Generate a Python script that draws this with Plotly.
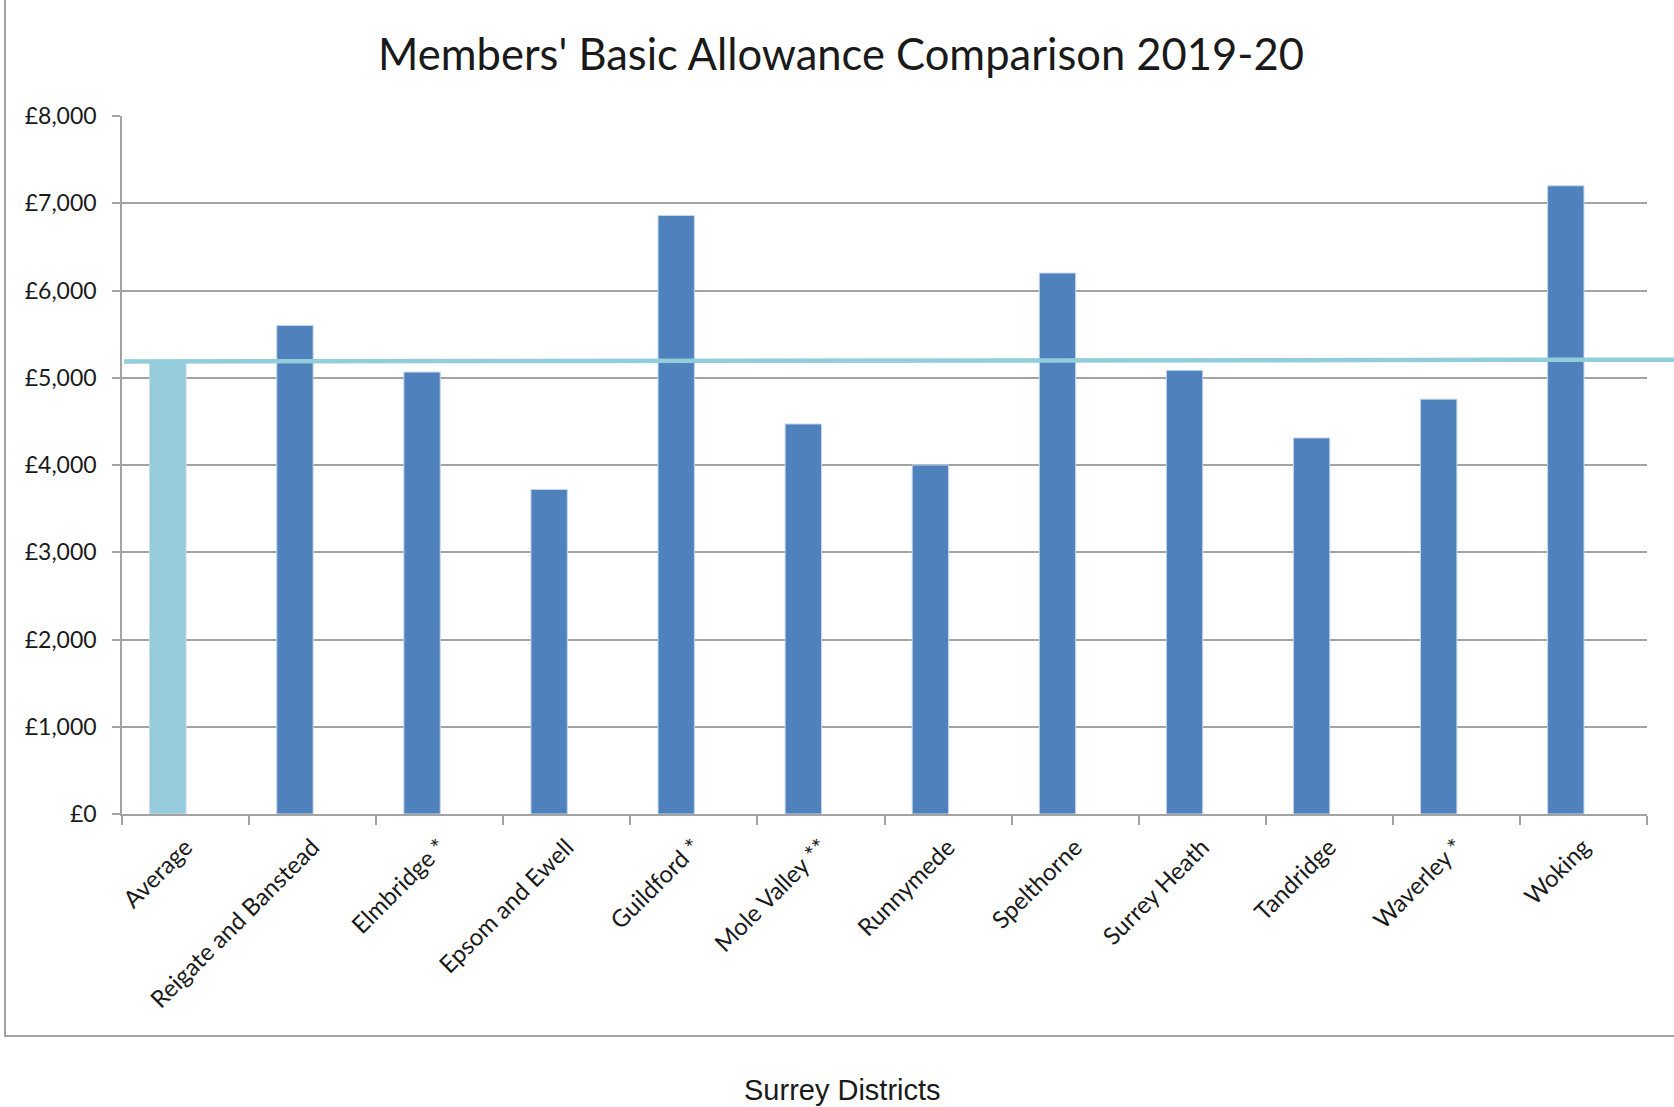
import plotly.graph_objects as go

# Members' basic allowance per Surrey district, 2019-20 (GBP)
districts = [
    "Average", "Reigate and Banstead", "Elmbridge *", "Epsom and Ewell",
    "Guildford *", "Mole Valley **", "Runnymede", "Spelthorne",
    "Surrey Heath", "Tandridge", "Waverley *", "Woking",
]
allowance = [5195, 5600, 5065, 3720, 6860, 4470, 4000, 6200, 5085, 4310, 4755, 7200]

# Average reference line (start / end values)
avg_line = [5187, 5207]

y_ticks = [0, 1000, 2000, 3000, 4000, 5000, 6000, 7000, 8000]

W, H = 1674, 1107
ML, MR, MT, MB = 122, 27, 116, 293
PW = W - ML - MR
PH = H - MT - MB

def px_x(px):
    return (px - ML) / PW

def px_y(py):
    return (H - MB - py) / PH

AVG_COLOR = "#95cbdb"
BAR_COLOR = "#4f81bd"
GRID = "#a3a3a3"
TEXT = "#1a1a1a"

bar_colors = [AVG_COLOR] + [BAR_COLOR] * (len(districts) - 1)

fig = go.Figure()
fig.add_trace(go.Bar(
    x=districts,
    y=allowance,
    marker=dict(color=bar_colors, line=dict(color="#c6d6ea", width=1)),
    width=0.286,
    offset=-0.282,
    hoverinfo="x+y",
))

# Chart frame (left and bottom edges)
fl, fb, ft, fr = px_x(5), px_y(1036), px_y(-5), px_x(1690)
fig.add_shape(
    type="path", xref="paper", yref="paper",
    path=f"M {fl},{ft} L {fl},{fb} L {fr},{fb}",
    line=dict(color=GRID, width=2),
    layer="below",
)

# Average line across the chart
fig.add_shape(
    type="line", xref="paper", yref="y",
    x0=px_x(124), x1=px_x(1690), y0=avg_line[0], y1=avg_line[1],
    line=dict(color="#92cddc", width=4.5),
    layer="above",
)

fig.update_layout(
    width=W, height=H,
    margin=dict(l=ML, r=MR, t=MT, b=MB),
    plot_bgcolor="white",
    paper_bgcolor="white",
    showlegend=False,
    title=dict(
        text="Members' Basic Allowance Comparison 2019-20",
        x=px_x(841), xref="paper", xanchor="center",
        y=1 - 55 / H, yanchor="middle",
        font=dict(family="Lato", size=43.5, color=TEXT),
    ),
    annotations=[dict(
        text="Surrey Districts", xref="paper", yref="paper",
        x=px_x(842), y=px_y(1090), xanchor="center", yanchor="middle",
        showarrow=False,
        font=dict(family="Liberation Sans", size=29, color=TEXT),
    )],
)

fig.update_xaxes(
    type="category",
    tickangle=-45,
    tickson="boundaries",
    ticks="outside", ticklen=9, tickcolor=GRID, tickwidth=1.5,
    showline=True, linecolor=GRID, linewidth=1.5,
    showgrid=False,
    tickfont=dict(family="Lato", size=24, color=TEXT),
    ticklabelstandoff=8,
    range=[-0.5, len(districts) - 0.5],
)

fig.update_yaxes(
    range=[0, 8000],
    tickvals=y_ticks,
    ticktext=[f"£{v:,}" for v in y_ticks],
    ticks="outside", ticklen=8, tickcolor=GRID, tickwidth=1.5,
    showline=True, linecolor=GRID, linewidth=1.5,
    showgrid=True, gridcolor=GRID, gridwidth=1.5,
    zeroline=False,
    tickfont=dict(family="Lato", size=23, color=TEXT),
    ticklabelstandoff=11,
)

fig.write_html("out.html")
